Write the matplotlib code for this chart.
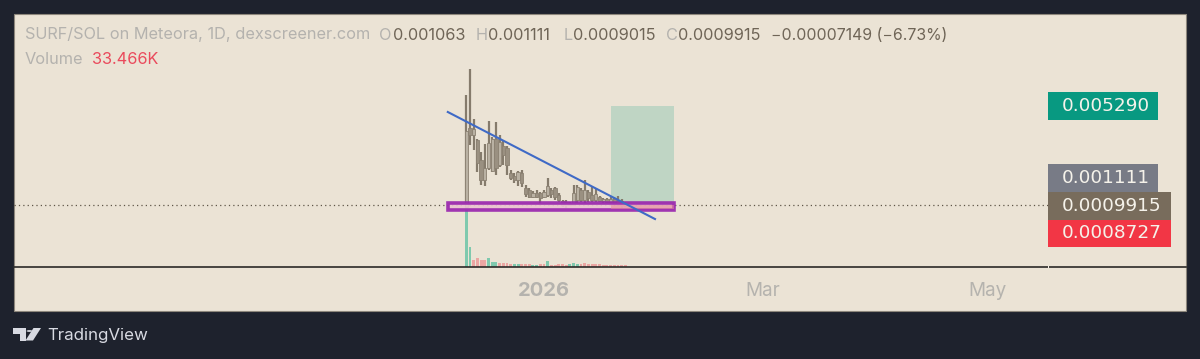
import pandas as pd
import matplotlib
matplotlib.use('Agg')
import matplotlib.pyplot as plt
import matplotlib.dates as mdates
from matplotlib.patches import Rectangle, Polygon, Circle

plt.rcParams['font.family'] = ['Inter', 'DejaVu Sans']

# daily candles, prices in units of 0.001 SOL
first_day = '2025-12-11'
opens = [0.90, 4.33, 4.03, 3.81, 2.95, 2.08, 2.60, 2.47, 3.86, 2.73, 3.55, 3.47, 2.38, 2.25, 2.08, 2.38,
         1.73, 1.64, 1.34, 1.51, 1.51, 1.34, 1.43, 1.64, 1.73, 1.43, 1.16, 0.99, 1.08, 0.99, 1.21, 1.64,
         1.21, 1.56, 1.43, 1.21, 1.34, 1.16, 1.25, 1.12, 1.25, 1.05, 1.16, 1.063]
closes = [4.20, 4.03, 4.29, 2.82, 2.08, 2.60, 3.68, 3.86, 2.60, 3.73, 3.16, 2.73, 2.16, 2.08, 2.42, 1.95,
          1.47, 1.34, 1.51, 1.34, 1.30, 1.56, 1.82, 1.47, 1.34, 1.21, 0.99, 1.12, 0.99, 1.51, 1.77, 1.21,
          1.64, 1.30, 1.21, 1.47, 1.16, 1.25, 1.12, 1.25, 1.05, 1.16, 1.00, 0.9915]
highs = [5.77, 6.90, 4.73, 3.86, 3.29, 3.64, 4.64, 3.94, 4.59, 4.03, 3.81, 3.55, 2.51, 2.38, 2.47, 2.51,
         1.86, 1.73, 1.60, 1.64, 1.56, 1.64, 2.16, 1.73, 1.77, 1.51, 1.21, 1.21, 1.12, 1.86, 1.86, 1.73,
         2.08, 1.64, 1.77, 1.73, 1.38, 1.30, 1.30, 1.34, 1.34, 1.38, 1.25, 1.111]
lows = [0.90, 3.60, 3.38, 2.42, 1.86, 1.82, 2.51, 2.42, 2.29, 2.64, 2.73, 2.29, 2.08, 1.95, 1.82, 1.77,
        1.34, 1.30, 1.30, 1.30, 1.08, 1.30, 1.34, 1.30, 1.21, 1.12, 0.90, 0.86, 0.95, 0.95, 1.08, 1.12,
        1.08, 1.12, 1.12, 1.12, 1.12, 1.08, 1.08, 1.03, 0.99, 0.95, 0.86, 0.9015]
volumes = [1200, 400, 140, 180, 140, 140, 180, 100, 100, 80, 80, 80, 70, 60, 60, 70, 60, 60, 50, 50, 70, 60,
           120, 50, 50, 60, 70, 50, 60, 90, 70, 70, 90, 70, 70, 60, 60, 50, 50, 50, 50, 50, 50, 33.466]
volume_up = [1, 1, 0, 0, 0, 0, 1, 1, 1, 0, 0, 0, 0, 1, 1, 0, 0, 0, 1, 1, 0, 0, 1, 0, 0, 0, 0, 0, 1, 1, 1, 0,
             0, 0, 0, 0, 0, 0, 0, 0, 0, 0, 0, 0]

# position tool and drawings
entry_price = 0.9915
target_price = 5.29
stop_price = 0.8727
position_days = ['2026-01-19', '2026-02-05']
zone_days = ['2025-12-06', '2026-02-05']
zone_prices = [1.08, 0.76]
trend_days = ['2025-12-06', '2026-01-31']
trend_prices = [5.03, 0.383]

tick_days = ['2026-01-01', '2026-03-01', '2026-05-01']
tick_labels = ['2026', 'Mar', 'May']

W, H = 1200, 359
dark = '#1e222d'
panel = '#ebe3d5'
digits = 'DejaVu Sans'

fig = plt.figure(figsize=(W / 100, H / 100), dpi=100, facecolor=dark)


def fx(x):
    return x / W


def fy(y):
    return 1 - y / H


def put(x, y, s, color, size=11.75, **kw):
    fig.text(fx(x), fy(y), s, color=color, fontsize=size, va='center', ha='left', **kw)


fig.add_artist(Rectangle((fx(14), fy(311)), fx(1172), 297 / H, transform=fig.transFigure,
                         facecolor=panel, edgecolor='#8d877c', linewidth=0.8, zorder=-1))

# price axis: pixels 14..267 from top, x axis line is the bottom spine
ax = fig.add_axes([fx(14), fy(267), fx(1172), 253 / H])
ax_vol = ax.twinx()
ax.set_zorder(ax_vol.get_zorder() + 1)
ax.patch.set_visible(False)
ax_vol.patch.set_visible(False)
ax.set_ylim(-1.70, 9.285)
ax_vol.set_ylim(0, 5060)

dates = pd.date_range(first_day, periods=len(opens))
jan1 = mdates.date2num(pd.Timestamp('2026-01-01'))
ax.set_xlim(jan1 - 530 / 3.7, jan1 + 642 / 3.7)
ax.xaxis_date()

vol_colors = ['#7fc9ae' if u else '#eba6a3' for u in volume_up]
ax_vol.bar(dates, volumes, width=0.8, color=vol_colors, linewidth=0)

# position box sits behind the candles
pos = mdates.date2num(pd.to_datetime(position_days))
ax.add_patch(Rectangle((pos[0], entry_price), pos[1] - pos[0], target_price - entry_price,
                       facecolor='#bfd5c4', edgecolor='none', zorder=1))
ax.axhline(entry_price, xmax=(1048 - 14) / 1172, color='#5f5648', linewidth=0.9, linestyle=(0, (1, 2.5)), zorder=1.5)

for d, o, c, h, l in zip(dates, opens, closes, highs, lows):
    ax.vlines(d, l, h, color='#857b6c', linewidth=1.6, zorder=3)
    fill = '#b9b1a3' if c >= o else '#9a9081'
    ax.bar(d, abs(c - o), bottom=min(o, c), width=0.9, facecolor=fill, edgecolor='#8b8172',
           linewidth=0.6, zorder=3.2)

zone = mdates.date2num(pd.to_datetime(zone_days))
ax.add_patch(Rectangle((zone[0], zone_prices[1]), zone[1] - zone[0], zone_prices[0] - zone_prices[1],
                       facecolor='#e9c3d0', edgecolor='#9a27ae', linewidth=2.6, alpha=0.92, zorder=4))
ax.add_patch(Rectangle((pos[0], stop_price - 0.05), pos[1] - pos[0], entry_price - stop_price + 0.05,
                       facecolor='#e58a97', edgecolor='none', alpha=0.55, zorder=4.1))
ax.plot(pd.to_datetime(trend_days), trend_prices, color='#3f6ac6', linewidth=1.5, zorder=5)

ax.set_xticks(pd.to_datetime(tick_days))
ax.set_xticklabels(tick_labels, fontsize=13.6, color='#b5b3ae')
ax.get_xticklabels()[0].set_fontweight('bold')
ax.get_xticklabels()[0].set_fontsize(14.5)
ax.tick_params(axis='x', length=0, pad=11)
ax.set_yticks([])
ax_vol.set_yticks([])
for a in (ax, ax_vol):
    for side in ('top', 'left', 'right'):
        a.spines[side].set_visible(False)
ax_vol.spines['bottom'].set_visible(False)
ax.spines['bottom'].set_color('#2b2a28')
ax.spines['bottom'].set_linewidth(1.2)

# small gap where the price scale meets the time axis
fig.add_artist(Rectangle((fx(1047.5), fy(268)), fx(1.5), 2 / H, transform=fig.transFigure,
                         facecolor='#f6f1e8', edgecolor='none', zorder=5))

# legend rows
grey = '#b4b2ae'
brown = '#6f6557'
put(25, 35, 'SURF/SOL on Meteora, 1D, dexscreener.com', grey)
put(379, 35, 'O', grey)
put(392.5, 35, '0.001063', brown)
put(476, 35, 'H', grey)
put(488, 35, '0.001111', brown)
put(563.5, 35, 'L', grey)
put(573, 35, '0.0009015', brown)
put(666, 35, 'C', grey)
put(678, 35, '0.0009915', brown)
put(771, 35, '\u22120.00007149 (\u22126.73%)', brown, size=11.4)
put(25, 59, 'Volume', grey)
put(92, 59, '33.466K', '#ea4a5c')

# price scale labels
labels = [(92, 120, 1158, '#089981', '0.005290'),
          (164, 192, 1158, '#787b86', '0.001111'),
          (192, 220, 1171, '#786c5c', '0.0009915'),
          (220, 247, 1171, '#f23645', '0.0008727')]
for top, bottom, right, col, txt in labels:
    fig.add_artist(Rectangle((fx(1048), fy(bottom)), fx(right - 1048), (bottom - top) / H,
                             transform=fig.transFigure, facecolor=col, edgecolor='none', zorder=2))
    put(1062, (top + bottom) / 2, txt, '#f5f2ea', size=13.3, family=digits)

# TradingView mark
logo = '#d8dae2'
fig.add_artist(Polygon([(fx(13), fy(328)), (fx(26), fy(328)), (fx(26), fy(340.5)), (fx(20), fy(340.5)),
                        (fx(20), fy(334)), (fx(13), fy(334))], transform=fig.transFigure,
                       facecolor=logo, edgecolor='none'))
fig.add_artist(Polygon([(fx(33.5), fy(328)), (fx(41), fy(328)), (fx(33), fy(340.5)), (fx(25.5), fy(340.5))],
                       transform=fig.transFigure, facecolor=logo, edgecolor='none'))
fig.add_artist(Circle((fx(29.5), fy(331)), 3 / W, transform=fig.transFigure, facecolor=logo,
                      edgecolor='none'))
put(47, 335.5, 'TradingView', logo, size=12.2)

fig.savefig('out.png', dpi=100, facecolor=dark)
